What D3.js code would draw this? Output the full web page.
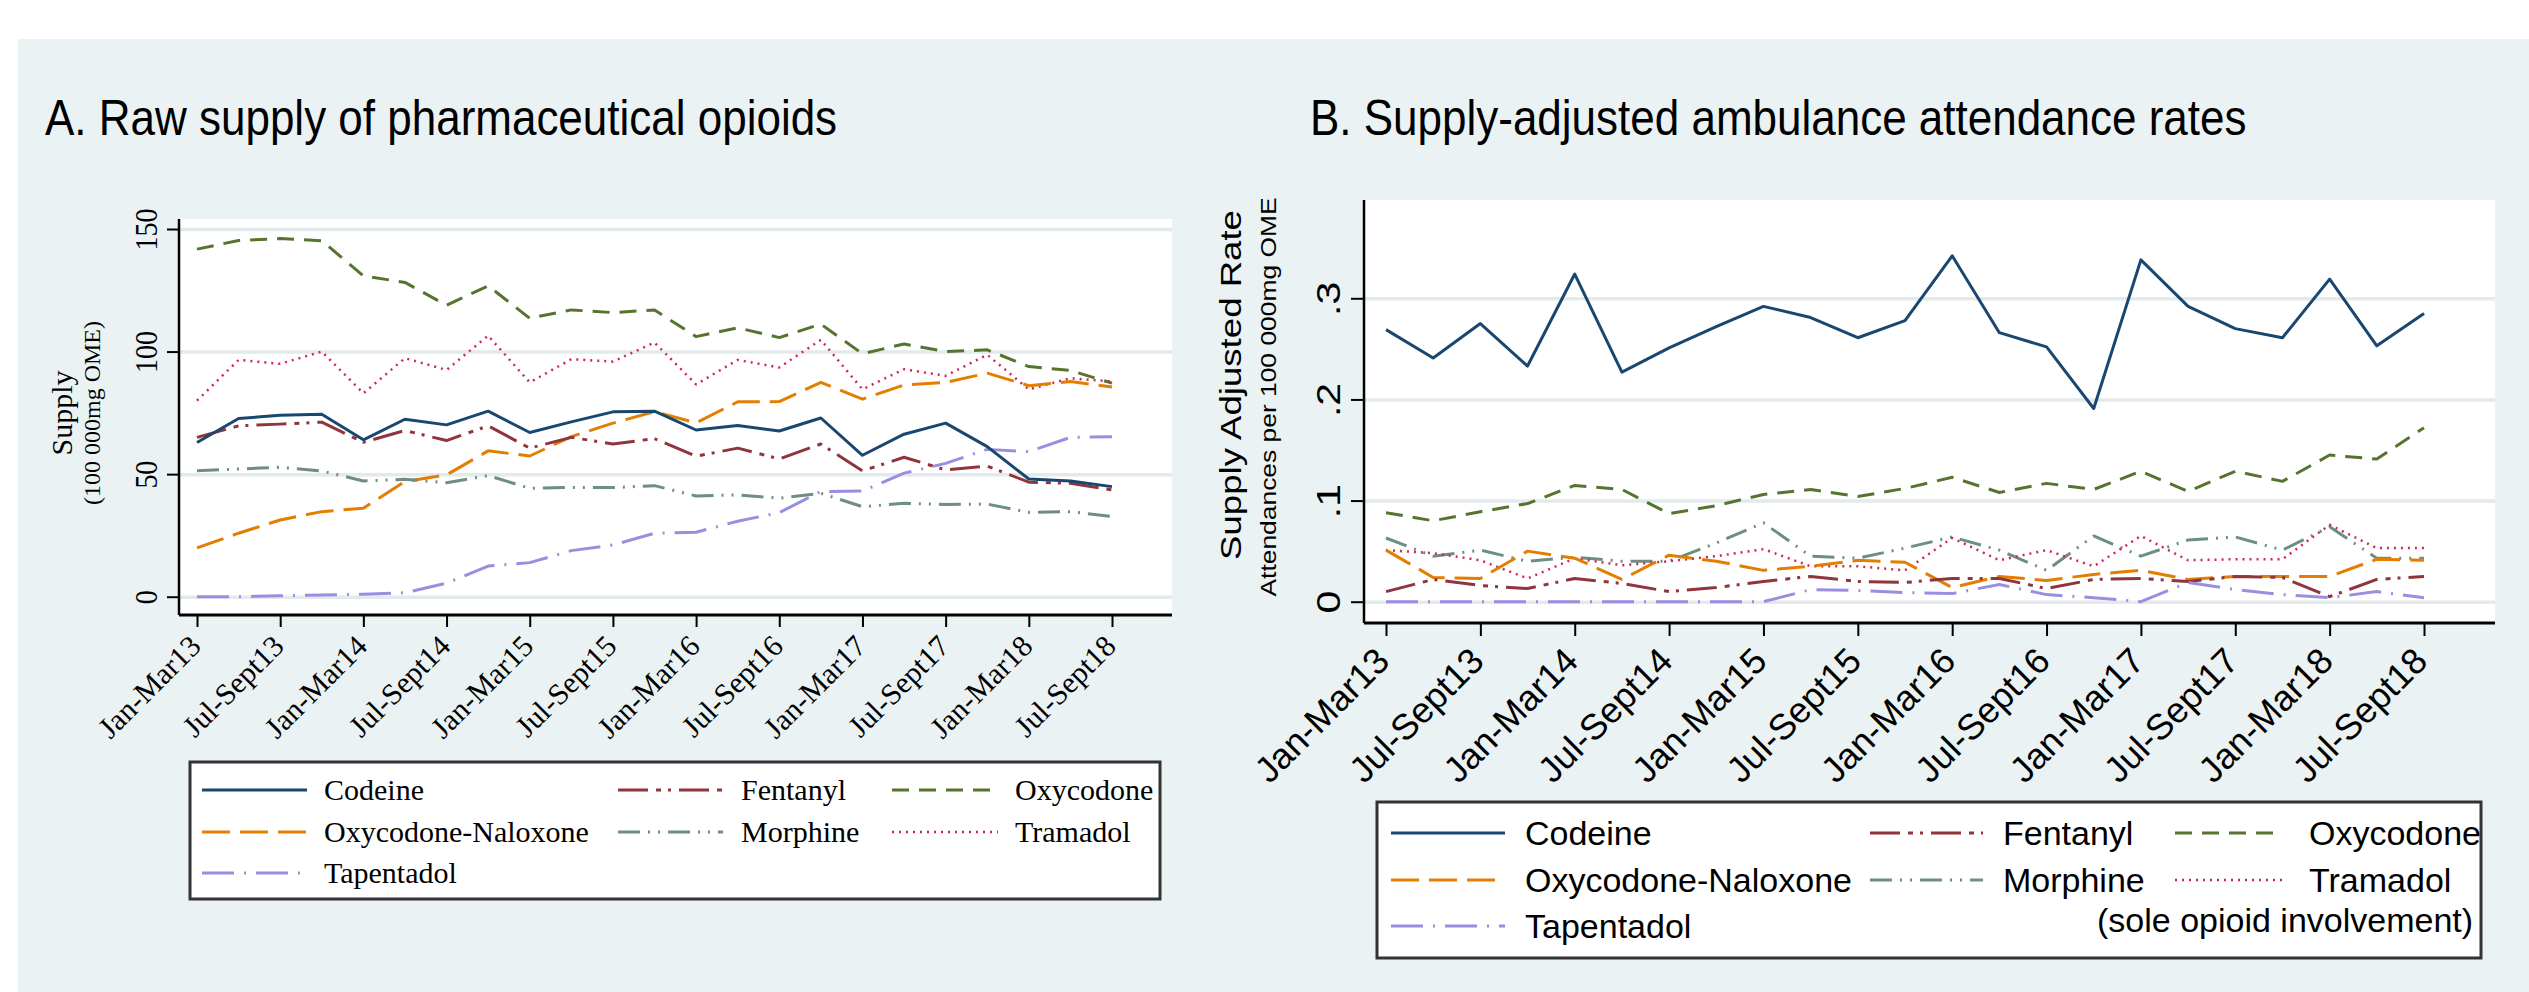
<!DOCTYPE html>
<meta charset="utf-8">
<script src="https://d3js.org/d3.v7.min.js"></script>
<style>
  body { margin: 0; background: #fff; }
</style>
<body>
<div id="graph"></div>
<script>
  var SERIF = "'Liberation Serif', 'Times New Roman', serif";
  var SANS = "'Liberation Sans', Arial, sans-serif";

  // quarters Jan-Mar13 .. Jul-Sept18, ticks every second quarter
  var quarters = d3.range(23);
  var tickLabels = ["Jan-Mar13", "Jul-Sept13", "Jan-Mar14", "Jul-Sept14", "Jan-Mar15", "Jul-Sept15",
    "Jan-Mar16", "Jul-Sept16", "Jan-Mar17", "Jul-Sept17", "Jan-Mar18", "Jul-Sept18"];
  var legendOrder = ["Codeine", "Fentanyl", "Oxycodone", "Oxycodone-Naloxone", "Morphine", "Tramadol", "Tapentadol"];

  // A. raw supply (100 000mg OME)
  var supplyCodeine = [62.9, 72.7, 74, 74.4, 64, 72.4, 70.1, 75.7, 67, 71.3, 75.4, 75.7, 68, 69.8, 67.6, 72.9, 57.7, 66.3, 70.8, 61.2, 48, 47.2, 44.9];
  var supplyFentanyl = [65, 69.7, 70.4, 71.2, 63, 67.8, 63.7, 69.7, 60.6, 65, 62.3, 64.5, 57.3, 60.6, 56.2, 62.3, 51.3, 56.9, 51.7, 53.3, 46.7, 46.3, 43.6];
  var supplyOxycodone = [141.8, 145.3, 146.1, 145.2, 130.9, 128.2, 118.9, 126.8, 113.6, 117, 115.9, 117, 106.1, 109.7, 105.7, 111.2, 99.1, 103.1, 100, 100.7, 93.9, 92.3, 87.1];
  var supplyOxyNal = [19.9, 25.9, 31.3, 34.7, 36.1, 47, 49.7, 59.5, 57.4, 65.3, 70.8, 75.5, 70.9, 79.5, 79.6, 87.4, 80.6, 86.4, 87.4, 91.2, 86.1, 87.8, 85.5];
  var supplyMorphine = [51.4, 52.1, 52.8, 51.3, 47.2, 47.9, 46.5, 49.4, 44.2, 44.6, 44.5, 45.3, 41.1, 41.5, 40.2, 42.2, 36.7, 38.1, 37.6, 37.8, 34.4, 34.7, 32.7];
  var supplyTramadol = [80, 96.6, 95, 100, 83, 97.3, 92.5, 106.5, 87.4, 96.9, 95.9, 103.7, 86.6, 96.6, 93.5, 104.8, 84.6, 92.8, 90.1, 98.7, 84.6, 89.1, 87.8];
  var supplyTapentadol = [0, 0, 0.4, 0.7, 1, 1.6, 5.5, 12.5, 13.9, 18.8, 21.1, 25.9, 26.3, 30.8, 34.3, 42.9, 43.1, 50.4, 54.4, 60.1, 59.2, 65, 65.3];

  // B. supply-adjusted attendance rate
  var rateCodeine = [.269, .241, .275, .233, .324, .227, .251, .272, .292, .281, .261, .278, .342, .266, .252, .191, .338, .292, .270, .261, .319, .253, .285];
  var rateFentanyl = [.010, .022, .016, .013, .023, .018, .010, .014, .020, .025, .020, .019, .023, .023, .013, .022, .023, .020, .025, .024, .005, .022, .025];
  var rateOxycodone = [.088, .080, .089, .097, .115, .111, .087, .095, .106, .111, .104, .112, .123, .108, .117, .111, .129, .109, .129, .119, .145, .141, .172];
  var rateOxyNal = [.051, .024, .023, .050, .043, .022, .046, .040, .031, .035, .041, .039, .014, .025, .021, .027, .031, .022, .025, .025, .025, .042, .041];
  var rateMorphine = [.063, .045, .051, .040, .044, .040, .040, .058, .078, .045, .043, .053, .064, .051, .031, .065, .045, .061, .064, .051, .074, .043, .043];
  var rateTramadol = [.051, .048, .041, .023, .043, .036, .040, .045, .052, .035, .035, .031, .063, .041, .051, .035, .065, .041, .042, .042, .076, .053, .053];
  var rateTapentadol = [0, 0, 0, 0, 0, 0, 0, 0, 0, .012, .011, .009, .008, .017, .007, .004, 0, .019, .012, .007, .004, .010, .004];

  var styles = {
    "Codeine": { color: "#1a476f", dash: null, w: 3 },
    "Fentanyl": { color: "#90353b", dash: "30 8 5 7 3 8", w: 3 },
    "Oxycodone": { color: "#55752f", dash: "17 10", w: 3 },
    "Oxycodone-Naloxone": { color: "#e37e00", dash: "28 10", w: 3 },
    "Morphine": { color: "#6e8e84", dash: "22 8 2 8 2 8", w: 3 },
    "Tramadol": { color: "#d0245a", dash: "2 5", w: 2.5 },
    "Tapentadol": { color: "#9a8ee0", dash: "32 10 2 10", w: 3 }
  };

  var svg = d3.select("#graph").append("svg")
    .attr("width", 2529)
    .attr("height", 992);

  // figure background
  svg.append("rect")
    .attr("x", 18).attr("y", 39)
    .attr("width", 2511).attr("height", 953)
    .attr("fill", "#eaf2f3");

  function drawPanel(p) {
    var g = svg.append("g");

    g.append("rect")
      .attr("x", p.left).attr("y", p.top)
      .attr("width", p.right - p.left).attr("height", p.bottom - p.top)
      .attr("fill", "#fff");

    // horizontal grid
    var grid = g.append("g")
      .attr("transform", "translate(" + p.left + ",0)")
      .call(d3.axisRight(p.y).tickValues(p.yTicks).tickSize(p.right - p.left).tickFormat(""));
    grid.select(".domain").remove();
    grid.selectAll("line").attr("stroke", "#e2eaec").attr("stroke-width", 3.5);

    // series
    p.series.forEach(function (s) {
      var st = styles[s.name];
      g.append("path")
        .datum(s.values)
        .attr("fill", "none")
        .attr("stroke", st.color)
        .attr("stroke-width", st.w)
        .attr("stroke-dasharray", st.dash)
        .attr("stroke-linejoin", "round")
        .attr("d", d3.line()
          .x(function (d, i) { return p.x(quarters[i]); })
          .y(function (d) { return p.y(d); }));
    });

    // y axis
    var ya = g.append("g")
      .attr("transform", "translate(" + p.left + ",0)")
      .call(d3.axisLeft(p.y).tickValues(p.yTicks).tickSize(p.tick).tickFormat(p.yFmt))
      .attr("font-family", p.font)
      .attr("font-size", p.yFont)
      .attr("color", "#000");
    ya.select(".domain").remove();
    ya.selectAll("line").attr("stroke-width", 2);
    ya.selectAll("text")
      .attr("x", 0).attr("dy", 0)
      .attr("text-anchor", "middle")
      .attr("transform", "translate(" + p.yLabX + ",0) scale(" + p.yLabSx + ",1) rotate(-90)");
    g.append("line")
      .attr("x1", p.left).attr("x2", p.left)
      .attr("y1", p.top).attr("y2", p.bottom)
      .attr("stroke", "#000").attr("stroke-width", 2.5);

    // x axis
    var xa = g.append("g")
      .attr("transform", "translate(0," + p.bottom + ")")
      .call(d3.axisBottom(p.x).tickValues(d3.range(0, 23, 2)).tickSize(p.tick)
        .tickFormat(function (d) { return tickLabels[d / 2]; }))
      .attr("font-family", p.font)
      .attr("font-size", p.xFont)
      .attr("color", "#000");
    xa.select(".domain").remove();
    xa.selectAll("line").attr("stroke-width", 2);
    xa.selectAll("text")
      .attr("y", 0).attr("dy", 0)
      .attr("text-anchor", "end")
      .attr("transform", "translate(" + p.xLabDx + "," + p.xLabDy + ") rotate(-45)");
    g.append("line")
      .attr("x1", p.left).attr("x2", p.right)
      .attr("y1", p.bottom).attr("y2", p.bottom)
      .attr("stroke", "#000").attr("stroke-width", 3);
  }

  function drawLegend(L) {
    var g = svg.append("g");
    g.append("rect")
      .attr("x", L.x0).attr("y", L.y0)
      .attr("width", L.x1 - L.x0).attr("height", L.y1 - L.y0)
      .attr("fill", "#fff").attr("stroke", "#333").attr("stroke-width", 3);
    legendOrder.forEach(function (name, i) {
      var c = i % 3, r = Math.floor(i / 3);
      var st = styles[name];
      g.append("line")
        .attr("x1", L.lineX[c][0]).attr("x2", L.lineX[c][1])
        .attr("y1", L.rowY[r] - L.lineUp).attr("y2", L.rowY[r] - L.lineUp)
        .attr("stroke", st.color)
        .attr("stroke-width", st.w)
        .attr("stroke-dasharray", st.dash);
      g.append("text")
        .attr("x", L.textX[c]).attr("y", L.rowY[r])
        .attr("font-family", L.font).attr("font-size", L.size)
        .text(name);
    });
    return g;
  }

  function title(x, y, txt) {
    svg.append("text")
      .attr("transform", "translate(" + x + "," + y + ") scale(0.88,1)")
      .attr("font-family", SANS)
      .attr("font-size", 50)
      .text(txt);
  }

  // ---------- Panel A ----------
  title(45, 135, "A. Raw supply of pharmaceutical opioids");

  drawPanel({
    left: 179, right: 1172, top: 219, bottom: 615,
    x: d3.scaleLinear().domain([0, 22]).range([197, 1112]),
    y: d3.scaleLinear().domain([0, 150]).range([596.7, 229]),
    yTicks: [0, 50, 100, 150],
    yFmt: d3.format("d"),
    font: SERIF, yFont: 28, xFont: 30, tick: 12,
    yLabX: -22, yLabSx: 1.1,
    xLabDx: 5, xLabDy: 33,
    series: [
      { name: "Oxycodone", values: supplyOxycodone },
      { name: "Tramadol", values: supplyTramadol },
      { name: "Oxycodone-Naloxone", values: supplyOxyNal },
      { name: "Morphine", values: supplyMorphine },
      { name: "Tapentadol", values: supplyTapentadol },
      { name: "Fentanyl", values: supplyFentanyl },
      { name: "Codeine", values: supplyCodeine }
    ]
  });

  svg.append("text")
    .attr("transform", "translate(72,413) rotate(-90)")
    .attr("text-anchor", "middle")
    .attr("font-family", SERIF).attr("font-size", 30)
    .text("Supply");
  svg.append("text")
    .attr("transform", "translate(100,413) rotate(-90)")
    .attr("text-anchor", "middle")
    .attr("font-family", SERIF).attr("font-size", 24)
    .text("(100 000mg OME)");

  drawLegend({
    x0: 190, x1: 1160, y0: 762, y1: 899,
    lineX: [[202, 307], [618, 723], [892, 998]],
    textX: [324, 741, 1015],
    rowY: [800, 842, 883],
    lineUp: 10,
    font: SERIF, size: 30
  });

  // ---------- Panel B ----------
  title(1310, 135, "B. Supply-adjusted ambulance attendance rates");

  drawPanel({
    left: 1364, right: 2495, top: 200, bottom: 623,
    x: d3.scaleLinear().domain([0, 22]).range([1386, 2424]),
    y: d3.scaleLinear().domain([0, 0.3]).range([601.7, 298.3]),
    yTicks: [0, 0.1, 0.2, 0.3],
    yFmt: function (d) { return d === 0 ? "0" : d3.format(".1f")(d).replace(/^0/, ""); },
    font: SANS, yFont: 41, xFont: 36, tick: 13,
    yLabX: -24, yLabSx: 0.83,
    xLabDx: 5, xLabDy: 40,
    series: [
      { name: "Oxycodone", values: rateOxycodone },
      { name: "Morphine", values: rateMorphine },
      { name: "Tramadol", values: rateTramadol },
      { name: "Oxycodone-Naloxone", values: rateOxyNal },
      { name: "Fentanyl", values: rateFentanyl },
      { name: "Tapentadol", values: rateTapentadol },
      { name: "Codeine", values: rateCodeine }
    ]
  });

  svg.append("text")
    .attr("transform", "translate(1241,385) scale(0.83,1) rotate(-90)")
    .attr("text-anchor", "middle")
    .attr("font-family", SANS).attr("font-size", 36.6)
    .text("Supply Adjusted Rate");
  svg.append("text")
    .attr("transform", "translate(1276,397) scale(0.83,1) rotate(-90)")
    .attr("text-anchor", "middle")
    .attr("font-family", SANS).attr("font-size", 26.4)
    .text("Attendances per 100 000mg OME");

  var legB = drawLegend({
    x0: 1377, x1: 2481, y0: 802, y1: 958,
    lineX: [[1391, 1505], [1870, 1983], [2175, 2283]],
    textX: [1525, 2003, 2309],
    rowY: [845, 892, 938],
    lineUp: 12,
    font: SANS, size: 34
  });
  legB.append("text")
    .attr("x", 2097).attr("y", 932)
    .attr("font-family", SANS).attr("font-size", 34)
    .text("(sole opioid involvement)");
</script>
</body>
